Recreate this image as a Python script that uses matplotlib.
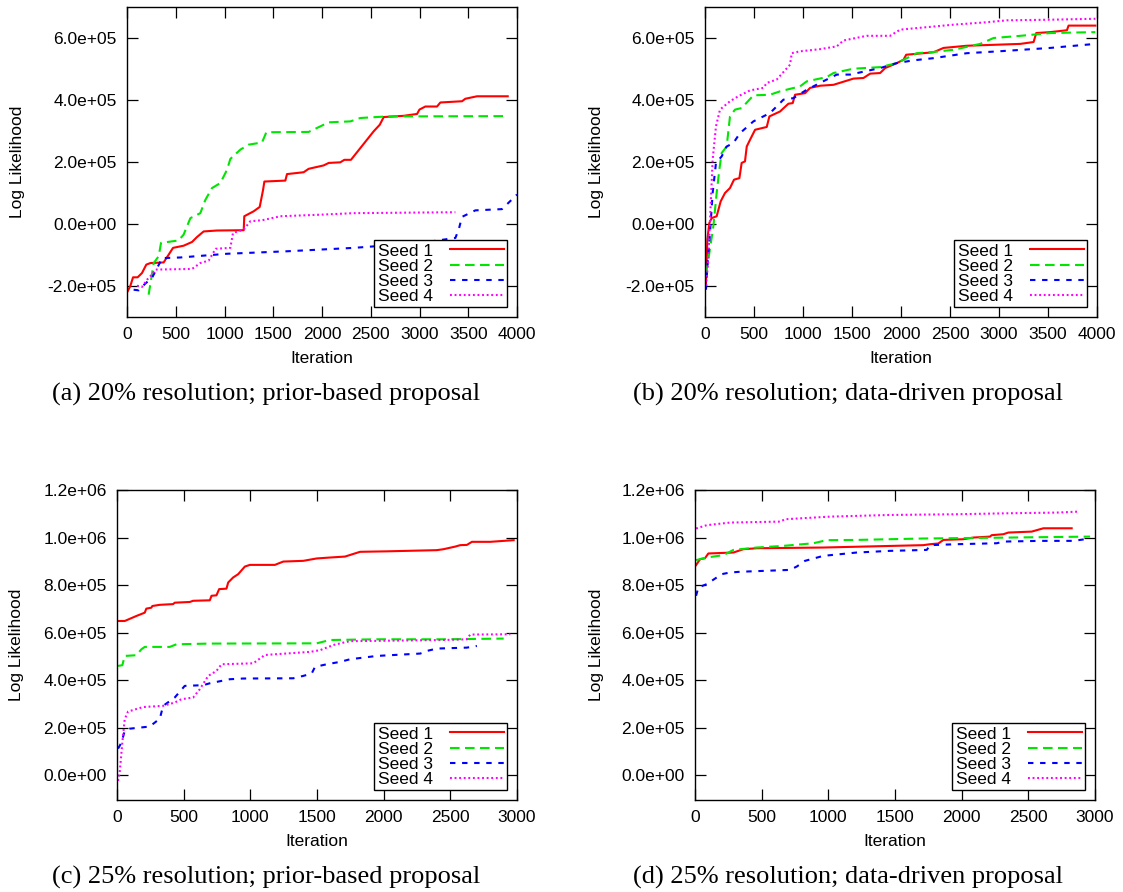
import matplotlib
matplotlib.use('Agg')
import matplotlib.pyplot as plt
from matplotlib.ticker import FuncFormatter, MultipleLocator

plt.rcParams['font.family'] = ['Liberation Sans', 'DejaVu Sans']

# Log likelihood traces (values in units of 1e5) for four random seeds
seed_labels = ['Seed 1', 'Seed 2', 'Seed 3', 'Seed 4']
seed_colors = ['#ff0000', '#00e600', '#0000ff', '#ff00ff']
SCALE = 1e5

# (a) 20% resolution, prior-based proposal
a1_x = [7, 34, 62, 109, 154, 198, 240, 376, 472, 581, 667, 718, 786, 923, 1197, 1203, 1299, 1361,
        1395, 1409, 1624, 1641, 1812, 1863, 2017, 2069, 2188, 2229, 2297, 2530, 2592, 2633, 2838,
        2975, 2999, 3060, 3180, 3214, 3436, 3470, 3590, 3905]
a1_y = [-2.17, -2.0, -1.72, -1.72, -1.58, -1.31, -1.26, -1.24, -0.77, -0.70, -0.58, -0.42, -0.24,
        -0.21, -0.20, 0.25, 0.41, 0.55, 1.09, 1.37, 1.40, 1.61, 1.67, 1.78, 1.89, 1.97, 1.99, 2.07,
        2.07, 2.99, 3.20, 3.45, 3.49, 3.55, 3.69, 3.79, 3.79, 3.92, 3.96, 4.04, 4.12, 4.12]
a2_x = [222, 274, 325, 349, 530, 581, 650, 752, 804, 872, 957, 1026, 1060, 1163, 1248, 1385, 1429,
        1863, 1983, 2069, 2291, 2394, 2667, 3870]
a2_y = [-2.28, -1.26, -1.04, -0.61, -0.53, -0.34, 0.19, 0.35, 0.78, 1.16, 1.32, 1.75, 2.10, 2.40,
        2.56, 2.63, 2.96, 2.97, 3.15, 3.28, 3.31, 3.42, 3.47, 3.48]
a3_x = [68, 120, 188, 256, 335, 359, 547, 786, 1026, 1641, 2325, 3009, 3368, 3402, 3436, 3573, 3846,
        4000]
a3_y = [-2.12, -2.14, -1.92, -1.74, -1.26, -1.10, -1.08, -1.02, -0.96, -0.88, -0.77, -0.61, -0.45,
        -0.18, 0.23, 0.44, 0.48, 0.95]
a4_x = [103, 154, 205, 256, 291, 667, 752, 838, 909, 1060, 1087, 1197, 1265, 1385, 1573, 1983, 2325,
        3368]
a4_y = [-1.99, -2.03, -1.80, -1.63, -1.47, -1.45, -1.26, -1.18, -0.80, -0.77, -0.29, -0.18, 0.09,
        0.12, 0.25, 0.30, 0.35, 0.38]

# (b) 20% resolution, data-driven proposal
b1_x = [10, 24, 44, 68, 119, 160, 204, 255, 296, 351, 374, 408, 426, 460, 511, 630, 657, 766, 851,
        895, 919, 1021, 1072, 1174, 1311, 1515, 1617, 1685, 1787, 1838, 1957, 2026, 2053, 2332, 2434,
        2672, 3217, 3353, 3380, 3523, 3693, 3710, 3983]
b1_y = [-1.90, -0.50, 0.03, 0.19, 0.25, 0.73, 1.00, 1.16, 1.43, 1.48, 1.97, 2.02, 2.50, 2.72, 3.04,
        3.13, 3.47, 3.63, 3.88, 3.90, 4.17, 4.22, 4.39, 4.46, 4.49, 4.69, 4.71, 4.85, 4.87, 5.03,
        5.19, 5.30, 5.46, 5.54, 5.68, 5.75, 5.81, 5.87, 6.16, 6.19, 6.25, 6.40, 6.40]
b2_x = [10, 44, 85, 119, 146, 170, 221, 255, 306, 374, 494, 664, 766, 970, 1038, 1242, 1311, 1515,
        1787, 1957, 2060, 2162, 2332, 2536, 2808, 2945, 3217, 3523, 3983]
b2_y = [-1.58, -0.94, -0.08, 1.00, 1.75, 2.29, 2.50, 3.47, 3.69, 3.74, 4.15, 4.17, 4.28, 4.44, 4.60,
        4.74, 4.87, 5.01, 5.06, 5.19, 5.35, 5.51, 5.55, 5.62, 5.81, 6.00, 6.07, 6.16, 6.19]
b3_x = [10, 24, 51, 78, 112, 170, 221, 289, 357, 494, 664, 800, 902, 1038, 1242, 1345, 1481, 1787,
        1957, 2128, 2332, 2672, 2995, 3523, 3983]
b3_y = [-2.12, -1.37, -0.29, 1.00, 1.97, 2.18, 2.50, 2.61, 2.93, 3.31, 3.58, 4.01, 4.06, 4.33, 4.66,
        4.82, 4.82, 5.03, 5.19, 5.28, 5.35, 5.51, 5.57, 5.68, 5.81]
b4_x = [10, 34, 78, 112, 153, 255, 340, 460, 596, 630, 732, 868, 885, 970, 1174, 1345, 1413, 1651,
        1889, 1992, 2332, 2536, 2842, 3081, 3523, 3983]
b4_y = [-2.00, -1.15, 2.07, 3.15, 3.69, 3.96, 4.12, 4.31, 4.39, 4.55, 4.66, 5.14, 5.51, 5.57, 5.64,
        5.73, 5.92, 6.07, 6.07, 6.27, 6.37, 6.43, 6.50, 6.57, 6.59, 6.62]

# (c) 25% resolution, prior-based proposal
c1_x = [8, 58, 145, 208, 220, 258, 265, 321, 421, 433, 546, 571, 696, 709, 746, 766, 821, 834, 871,
        909, 959, 997, 1184, 1247, 1397, 1497, 1598, 1710, 1823, 2023, 2399, 2449, 2537, 2574, 2624,
        2662, 2800, 2975]
c1_y = [6.49, 6.49, 6.70, 6.84, 7.01, 7.05, 7.12, 7.17, 7.20, 7.26, 7.29, 7.34, 7.36, 7.55, 7.57,
        7.83, 7.85, 8.11, 8.32, 8.46, 8.78, 8.85, 8.85, 8.99, 9.02, 9.12, 9.16, 9.20, 9.40, 9.42,
        9.47, 9.51, 9.62, 9.68, 9.69, 9.82, 9.82, 9.89]
c2_x = [8, 40, 58, 145, 183, 208, 396, 446, 696, 1497, 1598, 1948, 2449, 2900]
c2_y = [4.60, 4.63, 5.02, 5.05, 5.30, 5.40, 5.40, 5.51, 5.54, 5.55, 5.69, 5.72, 5.72, 5.75]
c3_x = [8, 33, 58, 95, 245, 321, 346, 433, 508, 646, 696, 846, 947, 1322, 1397, 1460, 1485, 1573,
        1673, 1748, 1948, 2274, 2324, 2399, 2624, 2699]
c3_y = [1.12, 1.37, 1.87, 1.96, 2.05, 2.38, 2.92, 3.27, 3.76, 3.79, 3.87, 4.04, 4.07, 4.08, 4.18,
        4.28, 4.56, 4.67, 4.77, 4.88, 5.02, 5.12, 5.23, 5.33, 5.37, 5.44]
c4_x = [8, 20, 40, 58, 83, 195, 346, 433, 483, 571, 621, 684, 746, 784, 1022, 1109, 1447, 1522, 1623,
        1698, 1748, 2449, 2624, 2649, 2950]
c4_y = [-0.24, 0.11, 1.37, 2.36, 2.68, 2.87, 2.92, 3.06, 3.20, 3.27, 3.62, 4.18, 4.39, 4.67, 4.71,
        5.06, 5.19, 5.26, 5.48, 5.58, 5.64, 5.69, 5.72, 5.92, 5.93]

# (d) 25% resolution, data-driven proposal
d1_x = [8, 38, 75, 100, 288, 363, 463, 963, 1713, 1763, 1825, 1863, 2013, 2088, 2213, 2225, 2313,
        2350, 2525, 2613, 2825]
d1_y = [8.84, 9.09, 9.13, 9.33, 9.37, 9.51, 9.55, 9.58, 9.68, 9.72, 9.75, 9.90, 9.93, 10.00, 10.04,
        10.10, 10.14, 10.21, 10.25, 10.39, 10.39]
d2_x = [8, 88, 213, 288, 463, 663, 888, 988, 1213, 1713, 2213, 2963]
d2_y = [9.05, 9.16, 9.26, 9.48, 9.58, 9.65, 9.76, 9.89, 9.90, 9.96, 9.99, 10.04]
d3_x = [8, 25, 88, 200, 263, 338, 713, 763, 825, 963, 1213, 1463, 1738, 1763, 1963, 2263, 2313, 2588,
        2838, 2963]
d3_y = [7.55, 7.90, 8.04, 8.46, 8.53, 8.56, 8.64, 8.78, 9.02, 9.23, 9.37, 9.44, 9.48, 9.68, 9.72,
        9.76, 9.83, 9.86, 9.86, 9.96]
d4_x = [8, 88, 263, 638, 675, 1013, 1463, 1963, 2338, 2713, 2875]
d4_y = [10.38, 10.52, 10.63, 10.67, 10.77, 10.88, 10.95, 10.98, 11.02, 11.05, 11.09]

captions = ['(a) 20% resolution; prior-based proposal',
            '(b) 20% resolution; data-driven proposal',
            '(c) 25% resolution; prior-based proposal',
            '(d) 25% resolution; data-driven proposal']

# dash patterns for the four seeds: solid, long dash, short dash, dotted
seed_dashes = [None, (4.6, 2.6), (2.6, 3.2), (0.9, 1.3)]

FS = 12.5
W, H = 1123, 892
fig = plt.figure(figsize=(W / 100, H / 100), dpi=100)


def add_axes_px(left, top, right, bottom):
    return fig.add_axes([left / W, 1 - bottom / H, (right - left) / W, (bottom - top) / H])


def draw_panel(ax, series, xmax, ylim, yticks, ylab_x):
    for (xs, ys), lab, col, dash in zip(series, seed_labels, seed_colors, seed_dashes):
        line, = ax.plot(xs, [v * SCALE for v in ys], color=col, lw=1.5, label=lab)
        if dash is not None:
            line.set_dashes(dash)
    ax.set_xlim(0, xmax)
    ax.set_ylim(*ylim)
    ax.xaxis.set_major_locator(MultipleLocator(500))
    ax.set_yticks(yticks)
    ax.yaxis.set_major_formatter(FuncFormatter(lambda v, p: '%.1e' % v))
    ax.tick_params(direction='in', length=8, width=0.9, top=True, right=True,
                   labelsize=FS, pad=7.5)
    for sp in ax.spines.values():
        sp.set_linewidth(1.0)
    ax.set_xlabel('Iteration', fontsize=FS, va='center')
    ax.xaxis.set_label_coords(0.5, -0.133)
    ax.set_ylabel('Log Likelihood', fontsize=FS, va='center')
    ax.yaxis.set_label_coords(ylab_x, 0.5)
    leg = ax.legend(loc='lower right', fontsize=FS, markerfirst=False, fancybox=False,
                    edgecolor='black', framealpha=1, handlelength=3.1, handletextpad=1.0,
                    labelspacing=0.0, borderpad=0.2, borderaxespad=0.55)
    leg.get_frame().set_linewidth(1.0)


ax_a = add_axes_px(127, 7, 517, 317)
draw_panel(ax_a, [(a1_x, a1_y), (a2_x, a2_y), (a3_x, a3_y), (a4_x, a4_y)],
           4000, (-3e5, 7e5), [-2e5, 0, 2e5, 4e5, 6e5], -0.282)

ax_b = add_axes_px(705, 7, 1097, 317)
draw_panel(ax_b, [(b1_x, b1_y), (b2_x, b2_y), (b3_x, b3_y), (b4_x, b4_y)],
           4000, (-3e5, 7e5), [-2e5, 0, 2e5, 4e5, 6e5], -0.276)

ax_c = add_axes_px(117, 490, 517, 800)
draw_panel(ax_c, [(c1_x, c1_y), (c2_x, c2_y), (c3_x, c3_y), (c4_x, c4_y)],
           3000, (-1.04e5, 1.2e6), [0, 2e5, 4e5, 6e5, 8e5, 1e6, 1.2e6], -0.25)

ax_d = add_axes_px(695, 490, 1095, 800)
draw_panel(ax_d, [(d1_x, d1_y), (d2_x, d2_y), (d3_x, d3_y), (d4_x, d4_y)],
           3000, (-1.04e5, 1.2e6), [0, 2e5, 4e5, 6e5, 8e5, 1e6, 1.2e6], -0.245)

# sub-figure captions in a serif face, centred under each panel plus its label
for cap, (cx, cy) in zip(captions, [(266, 401), (848, 401), (266, 884), (848, 884)]):
    fig.text(cx / W, 1 - cy / H, cap, ha='center', va='baseline',
             family=['Liberation Serif', 'DejaVu Serif'], fontsize=19)

fig.savefig('out.png', dpi=100)
